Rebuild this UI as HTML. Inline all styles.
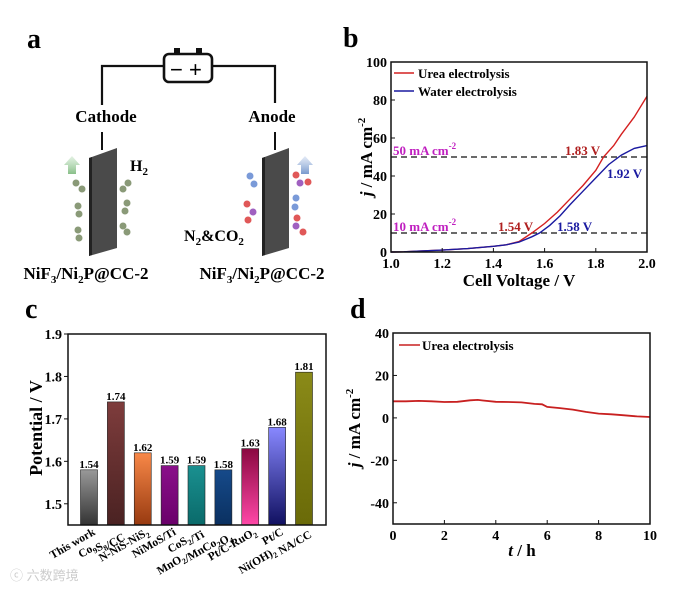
<!DOCTYPE html>
<html><head><meta charset="utf-8"><style>
body{margin:0;background:#fff;}
svg{display:block;font-family:"Liberation Serif",serif;font-weight:bold;}
</style></head><body>
<svg id="fig" width="698" height="591" viewBox="0 0 698 591">
<defs>
<linearGradient id="g0" x1="0" y1="0" x2="0" y2="1"><stop offset="0" stop-color="#999"/><stop offset="1" stop-color="#333"/></linearGradient>
<linearGradient id="g1" x1="0" y1="0" x2="0" y2="1"><stop offset="0" stop-color="#7e3c3c"/><stop offset="1" stop-color="#4a2222"/></linearGradient>
<linearGradient id="g2" x1="0" y1="0" x2="0" y2="1"><stop offset="0" stop-color="#f88848"/><stop offset="1" stop-color="#983a10"/></linearGradient>
<linearGradient id="g3" x1="0" y1="0" x2="0" y2="1"><stop offset="0" stop-color="#8a108a"/><stop offset="1" stop-color="#6a006a"/></linearGradient>
<linearGradient id="g4" x1="0" y1="0" x2="0" y2="1"><stop offset="0" stop-color="#1a9090"/><stop offset="1" stop-color="#0a6a6a"/></linearGradient>
<linearGradient id="g5" x1="0" y1="0" x2="0" y2="1"><stop offset="0" stop-color="#164a8a"/><stop offset="1" stop-color="#0a3060"/></linearGradient>
<linearGradient id="g6" x1="0" y1="0" x2="0" y2="1"><stop offset="0" stop-color="#8a0840"/><stop offset="1" stop-color="#ff48a8"/></linearGradient>
<linearGradient id="g7" x1="0" y1="0" x2="0" y2="1"><stop offset="0" stop-color="#8888ff"/><stop offset="1" stop-color="#101060"/></linearGradient>
<linearGradient id="g8" x1="0" y1="0" x2="0" y2="1"><stop offset="0" stop-color="#8a8a18"/><stop offset="1" stop-color="#6a6a08"/></linearGradient>
<linearGradient id="ga" x1="0" y1="1" x2="0" y2="0"><stop offset="0" stop-color="#7cb87c" stop-opacity=".9"/><stop offset="1" stop-color="#cfe8cf" stop-opacity=".6"/></linearGradient>
<linearGradient id="gb" x1="0" y1="1" x2="0" y2="0"><stop offset="0" stop-color="#6a8fc8" stop-opacity=".9"/><stop offset="1" stop-color="#d0dcf0" stop-opacity=".6"/></linearGradient>
</defs>

<g>
<text x="27" y="48" font-size="28">a</text>
<path d="M102,105 V66 H163 M213,66 H275 V103" fill="none" stroke="#111" stroke-width="2.2"/>
<g>
<rect x="164" y="54" width="48" height="28" rx="5" fill="#fff" stroke="#111" stroke-width="2.6"/>
<rect x="174" y="48" width="6" height="6" fill="#111"/><rect x="196" y="48" width="6" height="6" fill="#111"/>
<text x="170" y="77" font-size="22" font-weight="normal" font-family="Liberation Sans,sans-serif">−</text>
<text x="189" y="77" font-size="22" font-weight="normal" font-family="Liberation Sans,sans-serif">+</text>
</g>
<text x="106" y="122" font-size="17" text-anchor="middle">Cathode</text>
<text x="272" y="122" font-size="17" text-anchor="middle">Anode</text>
<path d="M102,132 V150 M275,132 V150" stroke="#111" stroke-width="2"/>
<polygon points="89,158 117,148 117,248 89,256" fill="#4a4a4a"/>
<polygon points="89,158 92,157 92,255 89,256" fill="#222"/>
<polygon points="262,158 289,148 289,248 262,256" fill="#4a4a4a"/>
<polygon points="262,158 265,157 265,255 262,256" fill="#222"/>
<path d="M64,165 L72,156 L80,165 L76,165 L76,174 L68,174 L68,165Z" fill="url(#ga)"/>
<path d="M297,165 L305,156 L313,165 L309,165 L309,174 L301,174 L301,165Z" fill="url(#gb)"/>
<g fill="#8a9a78">
<circle cx="76" cy="183" r="3.5"/><circle cx="82" cy="189" r="3.5"/><circle cx="78" cy="206" r="3.5"/><circle cx="79" cy="214" r="3.5"/><circle cx="78" cy="230" r="3.5"/><circle cx="79" cy="238" r="3.5"/>
<circle cx="128" cy="183" r="3.5"/><circle cx="123" cy="189" r="3.5"/><circle cx="127" cy="203" r="3.5"/><circle cx="125" cy="211" r="3.5"/><circle cx="123" cy="226" r="3.5"/><circle cx="127" cy="232" r="3.5"/>
</g>
<g>
<circle cx="250" cy="176" r="3.5" fill="#7a9ad8"/><circle cx="254" cy="184" r="3.5" fill="#7a9ad8"/>
<circle cx="247" cy="204" r="3.5" fill="#e05858"/><circle cx="253" cy="212" r="3.5" fill="#a060c0"/><circle cx="248" cy="220" r="3.5" fill="#e05858"/>
<circle cx="296" cy="175" r="3.5" fill="#e05858"/><circle cx="300" cy="183" r="3.5" fill="#a060c0"/><circle cx="308" cy="182" r="3.5" fill="#e05858"/>
<circle cx="296" cy="198" r="3.5" fill="#7a9ad8"/><circle cx="295" cy="207" r="3.5" fill="#7a9ad8"/>
<circle cx="297" cy="218" r="3.5" fill="#e05858"/><circle cx="296" cy="226" r="3.5" fill="#a060c0"/><circle cx="303" cy="232" r="3.5" fill="#e05858"/>
</g>
<text x="130" y="171" font-size="16">H<tspan font-size="11" dy="4">2</tspan></text>
<text x="184" y="241" font-size="16">N<tspan font-size="11" dy="4">2</tspan><tspan dy="-4">&amp;CO</tspan><tspan font-size="11" dy="4">2</tspan></text>
<text x="86" y="279" font-size="17" text-anchor="middle">NiF<tspan font-size="11" dy="4">3</tspan><tspan dy="-4">/Ni</tspan><tspan font-size="11" dy="4">2</tspan><tspan dy="-4">P@CC-2</tspan></text>
<text x="262" y="279" font-size="17" text-anchor="middle">NiF<tspan font-size="11" dy="4">3</tspan><tspan dy="-4">/Ni</tspan><tspan font-size="11" dy="4">2</tspan><tspan dy="-4">P@CC-2</tspan></text>
</g>

<g id="pb"></g>
<g id="pc"></g>
<g id="pd"></g>

<text x="10" y="580" font-size="13" fill="#ccc" font-weight="normal" font-family="Liberation Sans,'Noto Sans CJK SC',sans-serif">ⓒ 六数跨境</text>
</svg>
<script>
const bUreaV=[1.0,1.05,1.1,1.2,1.3,1.4,1.45,1.5,1.55,1.6,1.65,1.7,1.75,1.8,1.83,1.87,1.9,1.95,2.0];
const bUreaJ=[0,0.1,0.4,1,1.8,3,3.8,5.5,10,15,21,28,35,43,50,56,62,71,82];
const bWaterV=[1.0,1.05,1.1,1.2,1.3,1.4,1.45,1.5,1.55,1.58,1.62,1.66,1.7,1.75,1.8,1.85,1.9,1.95,2.0];
const bWaterJ=[0,0.1,0.4,1,1.8,3,3.8,5.2,8,10,14,19,25,32,39,46,51,54.5,56];
const bXTicks=[1.0,1.2,1.4,1.6,1.8,2.0];
const bYTicks=[0,20,40,60,80,100];
const cCats=["This work","Co9S8/CC","N-NiS-NiS2","NiMoS/Ti","CoS2/Ti","MnO2/MnCo2O4","Pt/C-RuO2","Pt/C","Ni(OH)2 NA/CC"];
const cVals=[1.58,1.74,1.62,1.59,1.59,1.58,1.63,1.68,1.81];
const cLabels=["1.54","1.74","1.62","1.59","1.59","1.58","1.63","1.68","1.81"];
const cYTicks=[1.5,1.6,1.7,1.8,1.9];
const dT=[0,0.5,1,1.5,2,2.5,3,3.3,3.5,4,4.5,5,5.5,5.8,6,6.5,7,7.5,8,8.5,9,9.5,10];
const dJ=[7.8,7.8,8,7.8,7.5,7.6,8.3,8.5,8.2,7.6,7.5,7.3,6.6,6.4,5.2,4.6,3.9,2.8,2,1.7,1.2,0.7,0.4];
const dXTicks=[0,2,4,6,8,10];
const dYTicks=[-40,-20,0,20,40];

const NS="http://www.w3.org/2000/svg";
function el(p,tag,attrs,txt){const e=document.createElementNS(NS,tag);for(const k in attrs)e.setAttribute(k,attrs[k]);if(txt!==undefined)e.textContent=txt;p.appendChild(e);return e;}
function lin(d0,d1,r0,r1){return v=>r0+(v-d0)/(d1-d0)*(r1-r0);}
function pathOf(xs,ys,sx,sy){return xs.map((x,i)=>(i?"L":"M")+sx(x).toFixed(1)+","+sy(ys[i]).toFixed(1)).join("");}
function subHTML(s){return s.replace(/([A-Za-z\)])(\d+)/g,'$1<tspan font-size="8" dy="3">$2</tspan><tspan dy="-3"></tspan>');}

(function(){
const g=document.getElementById('pb');
const L=391,R=647,T=62,B=252;
const sx=lin(1,2,L,R), sy=lin(0,100,B,T);
let t=el(g,'text',{x:343,y:47,'font-size':28});t.textContent='b';


for(const v of [10,50]){
 const d=el(g,'line',{x1:L,x2:R,y1:sy(v),y2:sy(v),stroke:'#111','stroke-width':1.3,'stroke-dasharray':'6,4'});
 
 
}
const pu=el(g,'path',{d:pathOf(bUreaV,bUreaJ,sx,sy),fill:'none',stroke:'#d42020','stroke-width':1.4});


const pw=el(g,'path',{d:pathOf(bWaterV,bWaterJ,sx,sy),fill:'none',stroke:'#1a1aa0','stroke-width':1.4});


el(g,'rect',{x:L,y:T,width:R-L,height:B-T,fill:'none',stroke:'#111','stroke-width':1.5});
bXTicks.forEach(v=>{el(g,'line',{x1:sx(v),x2:sx(v),y1:B,y2:B-4,stroke:'#111'});
 const tx=el(g,'text',{x:sx(v),y:B+16,'font-size':14,'text-anchor':'middle'},v.toFixed(1));
 
 });
bYTicks.forEach(v=>{el(g,'line',{x1:L,x2:L+4,y1:sy(v),y2:sy(v),stroke:'#111'});
 const tx=el(g,'text',{x:L-4,y:sy(v)+5,'font-size':14,'text-anchor':'end'},v);
 
 });
const xt=el(g,'text',{x:519,y:286,'font-size':17,'text-anchor':'middle'},'Cell Voltage / V');


const yt=el(g,'text',{transform:'translate(372,157) rotate(-90)','font-size':17,'text-anchor':'middle'});
yt.innerHTML='<tspan font-style="italic">j</tspan> / mA cm<tspan font-size="11" dy="-7">-2</tspan>';


el(g,'line',{x1:394,x2:414,y1:73,y2:73,stroke:'#d42020','stroke-width':1.5});
let lt=el(g,'text',{x:418,y:78,'font-size':13},'Urea electrolysis');


el(g,'line',{x1:394,x2:414,y1:91,y2:91,stroke:'#1a1aa0','stroke-width':1.5});
lt=el(g,'text',{x:418,y:96,'font-size':13},'Water electrolysis');


const ann=[[393,155,'50 mA cm','#c020c0',true],[393,231,'10 mA cm','#c020c0',true],[565,155,'1.83 V','#b02020'],[498,231,'1.54 V','#b02020'],[607,178,'1.92 V','#1a1aa0'],[557,231,'1.58 V','#1a1aa0']];
ann.forEach(a=>{const e=el(g,'text',{x:a[0],y:a[1],'font-size':13,fill:a[3]});
 e.innerHTML=a[2]+(a[4]?'<tspan font-size="9" dy="-6">-2</tspan>':'');
 
 });
})();

(function(){
const g=document.getElementById('pc');
const L=68,R=326,T=334,B=525;
const sy=lin(1.45,1.9,B,T);
let t=el(g,'text',{x:25,y:318,'font-size':28},'c');


cVals.forEach((v,i)=>{
 const cx=89+i*(304-89)/(cCats.length-1);
 const r=el(g,'rect',{x:cx-8.5,y:sy(v),width:17,height:B-sy(v),fill:'url(#g'+i+')',stroke:'#222','stroke-width':0.6});
 
 
 const vl=el(g,'text',{x:cx,y:sy(v)-2,'font-size':11,'text-anchor':'middle'},cLabels[i]);
 
 
 const cl=el(g,'text',{transform:`translate(${cx+7},${B+9}) rotate(-30)`,'font-size':11.5,'text-anchor':'end'});
 cl.innerHTML=subHTML(cCats[i]);
 
 
});
el(g,'rect',{x:L,y:T,width:R-L,height:B-T,fill:'none',stroke:'#111','stroke-width':1.5});
cYTicks.forEach(v=>{el(g,'line',{x1:L,x2:L-4,y1:sy(v),y2:sy(v),stroke:'#111'});
 const tx=el(g,'text',{x:L-6,y:sy(v)+5,'font-size':14,'text-anchor':'end'},v.toFixed(1));
 
 });
const yt=el(g,'text',{transform:'translate(42,428) rotate(-90)','font-size':18,'text-anchor':'middle'},'Potential / V');


})();

(function(){
const g=document.getElementById('pd');
const L=393,R=650,T=333,B=524;
const sx=lin(0,10,L,R), sy=lin(-50,40,B,T);
let t=el(g,'text',{x:350,y:318,'font-size':28},'d');


const p=el(g,'path',{d:pathOf(dT,dJ,sx,sy),fill:'none',stroke:'#c82020','stroke-width':1.8});


el(g,'rect',{x:L,y:T,width:R-L,height:B-T,fill:'none',stroke:'#111','stroke-width':1.5});
dXTicks.forEach(v=>{el(g,'line',{x1:sx(v),x2:sx(v),y1:B,y2:B-4,stroke:'#111'});
 const tx=el(g,'text',{x:sx(v),y:B+16,'font-size':14,'text-anchor':'middle'},v);
 
 });
dYTicks.forEach(v=>{el(g,'line',{x1:L,x2:L+4,y1:sy(v),y2:sy(v),stroke:'#111'});
 const tx=el(g,'text',{x:L-4,y:sy(v)+5,'font-size':14,'text-anchor':'end'},v);
 
 });
const xt=el(g,'text',{x:522,y:556,'font-size':17,'text-anchor':'middle'});
xt.innerHTML='<tspan font-style="italic">t</tspan> / h';


const yt=el(g,'text',{transform:'translate(360,428) rotate(-90)','font-size':17,'text-anchor':'middle'});
yt.innerHTML='<tspan font-style="italic">j</tspan> / mA cm<tspan font-size="11" dy="-7">-2</tspan>';


el(g,'line',{x1:399,x2:420,y1:345,y2:345,stroke:'#c82020','stroke-width':1.5});
const lt=el(g,'text',{x:422,y:350,'font-size':13},'Urea electrolysis');


})();
</script>
</body></html>
